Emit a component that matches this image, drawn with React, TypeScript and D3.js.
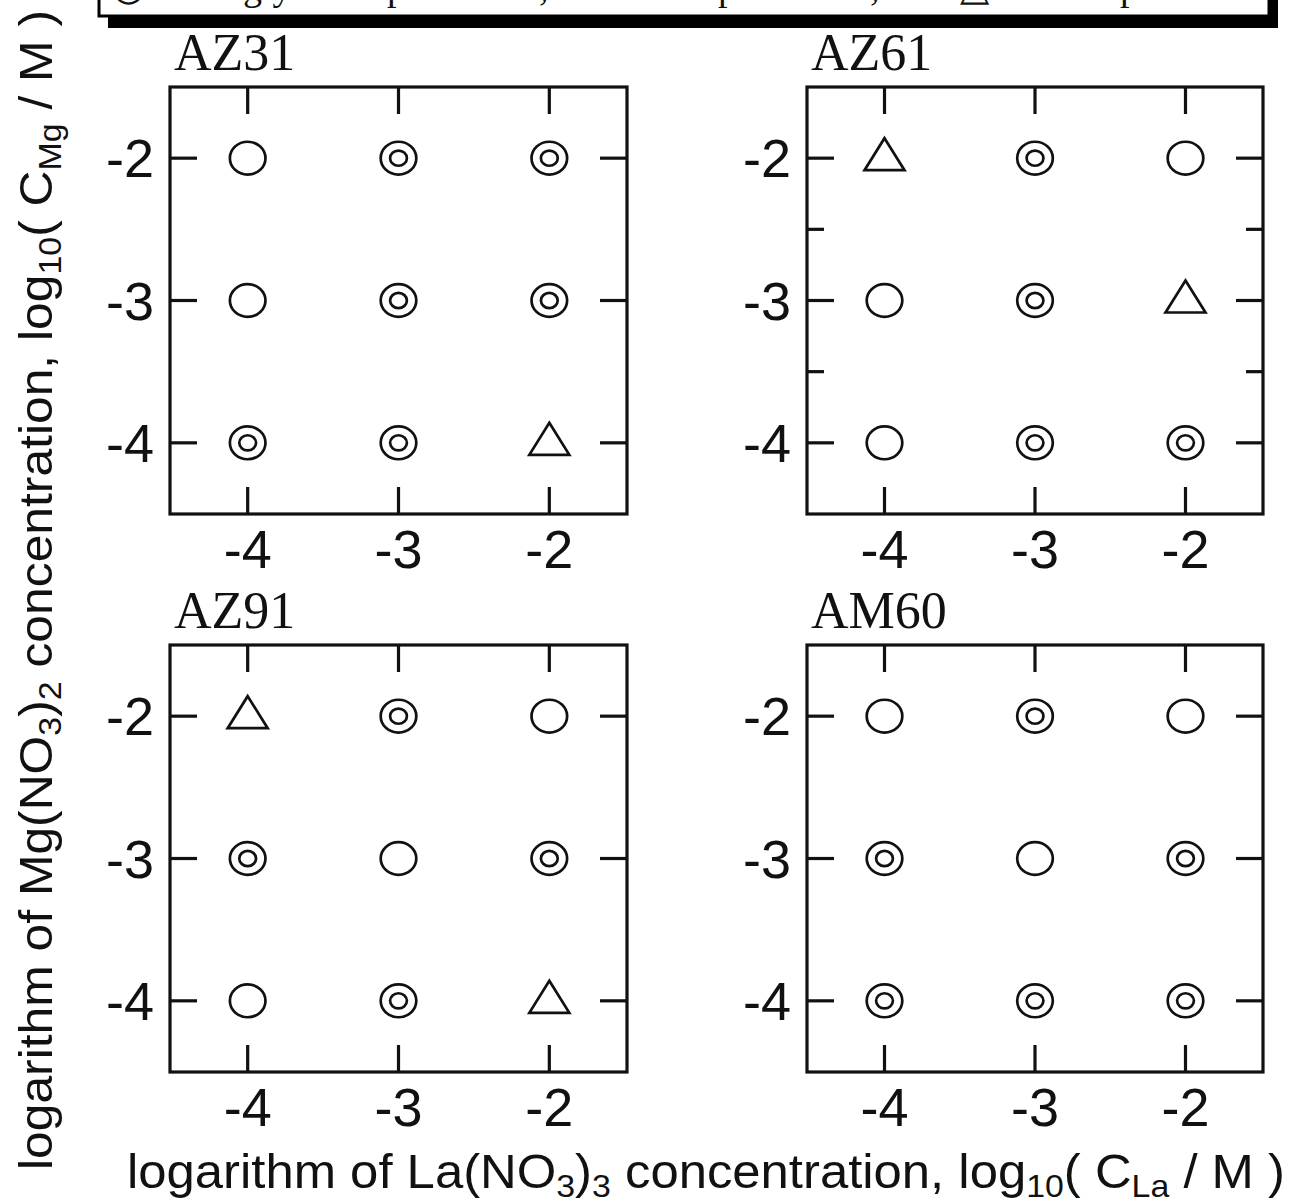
import React from "react";
import * as d3 from "d3";

// ---- data ----
const alloys = ["AZ31", "AZ61", "AZ91", "AM60"];
const laTicks = [-4, -3, -2]; // log10(C_La / M)
const mgTicks = [-2, -3, -4]; // log10(C_Mg / M)
// ratings, row order = mgTicks, column order = laTicks
// D = double circle (◎), O = single circle (○), T = triangle (△)
const az31 = ["O", "D", "D", "O", "D", "D", "D", "D", "T"];
const az61 = ["T", "D", "O", "O", "D", "T", "O", "D", "D"];
const az91 = ["T", "D", "O", "D", "O", "D", "O", "D", "T"];
const am60 = ["O", "D", "O", "D", "O", "D", "D", "D", "D"];
const ratings = [az31, az61, az91, am60];
const minorTickPanels = ["AZ61"];
const minorTicks = [-2.5, -3.5];
// legend (cut off at the top edge of the figure)
const legendWords = ["◎ :", "strongly", "protective,", "○ :", "protective,", "△ : not", "protective"];

const W = 1296;
const H = 1203;
const SANS = "'Liberation Sans', Arial, Helvetica, sans-serif";
const SERIF = "'Liberation Serif', 'Times New Roman', serif";

const panelBoxes = [
  { x0: 170, x1: 627, y0: 87, y1: 514 },
  { x0: 807, x1: 1263, y0: 87, y1: 514 },
  { x0: 170, x1: 627, y0: 645, y1: 1072 },
  { x0: 807, x1: 1263, y0: 645, y1: 1072 },
];
const legendWordX = [112, 167, 387, 640, 718, 960, 1120];

function Marker({ kind, cx, cy }: { kind: string; cx: number; cy: number }) {
  const sw = 2.7;
  if (kind === "T") {
    const p = d3.path();
    p.moveTo(cx, cy - 20);
    p.lineTo(cx + 20, cy + 12);
    p.lineTo(cx - 20, cy + 12);
    p.closePath();
    return <path d={p.toString()} fill="none" stroke="#111" strokeWidth={sw} strokeLinejoin="miter" />;
  }
  return (
    <g>
      <ellipse cx={cx} cy={cy} rx={17.8} ry={16.4} fill="none" stroke="#111" strokeWidth={sw} />
      {kind === "D" && (
        <ellipse cx={cx} cy={cy} rx={8.4} ry={7.6} fill="none" stroke="#111" strokeWidth={sw} />
      )}
    </g>
  );
}

function Panel({ idx }: { idx: number }) {
  const b = panelBoxes[idx];
  const name = alloys[idx];
  const x = d3.scaleLinear().domain([-4.515, -1.485]).range([b.x0, b.x1]);
  const y = d3.scaleLinear().domain([-1.5, -4.5]).range([b.y0, b.y1]);
  const tickLen = 27;
  const lw = 3.2;
  const data = ratings[idx];
  const fmt = (t: number) => d3.format("d")(t).replace("−", "-");
  return (
    <g>
      <text x={b.x0 + 4} y={b.y0 - 17} fontFamily={SERIF} fontSize={52} fill="#111">
        {name}
      </text>
      <rect x={b.x0} y={b.y0} width={b.x1 - b.x0} height={b.y1 - b.y0} fill="none" stroke="#111" strokeWidth={lw} />
      {laTicks.map((t) => (
        <g key={"xt" + t}>
          <line x1={x(t)} x2={x(t)} y1={b.y0} y2={b.y0 + tickLen} stroke="#111" strokeWidth={lw} />
          <line x1={x(t)} x2={x(t)} y1={b.y1} y2={b.y1 - tickLen} stroke="#111" strokeWidth={lw} />
          <text x={x(t)} y={b.y1 + 54} textAnchor="middle" fontFamily={SANS} fontSize={54} fill="#111">
            {fmt(t)}
          </text>
        </g>
      ))}
      {mgTicks.map((t) => (
        <g key={"yt" + t}>
          <line x1={b.x0} x2={b.x0 + tickLen} y1={y(t)} y2={y(t)} stroke="#111" strokeWidth={lw} />
          <line x1={b.x1} x2={b.x1 - tickLen} y1={y(t)} y2={y(t)} stroke="#111" strokeWidth={lw} />
          <text x={b.x0 - 16} y={y(t) + 19} textAnchor="end" fontFamily={SANS} fontSize={54} fill="#111">
            {fmt(t)}
          </text>
        </g>
      ))}
      {minorTickPanels.includes(name) &&
        minorTicks.map((t) => (
          <g key={"mt" + t}>
            <line x1={b.x0} x2={b.x0 + 17} y1={y(t)} y2={y(t)} stroke="#111" strokeWidth={lw} />
            <line x1={b.x1} x2={b.x1 - 17} y1={y(t)} y2={y(t)} stroke="#111" strokeWidth={lw} />
          </g>
        ))}
      {mgTicks.map((mg, r) =>
        laTicks.map((la, c) => (
          <Marker key={r + "-" + c} kind={data[r * 3 + c]} cx={x(la)} cy={y(mg)} />
        ))
      )}
    </g>
  );
}

export default function App() {
  return (
    <svg
      width={W}
      height={H}
      viewBox={`0 0 ${W} ${H}`}
      style={{ position: "absolute", left: 0, top: 0, background: "#fff" }}
    >
      <rect x={0} y={0} width={W} height={H} fill="#fff" />
      {/* legend box (cut off at the top) */}
      <rect x={108} y={-40} width={1170} height={68} fill="#000" />
      <rect x={99} y={-50} width={1170} height={66} fill="#fff" stroke="#000" strokeWidth={3} />
      {legendWords.map((w, i) => (
        <text key={i} x={legendWordX[i]} y={0} fontFamily={SERIF} fontSize={38} fill="#111">
          {w}
        </text>
      ))}
      {alloys.map((_, i) => (
        <Panel key={i} idx={i} />
      ))}
      {/* y-axis label */}
      <text
        transform={`translate(52, 590) rotate(-90)`}
        textAnchor="middle"
        fontFamily={SANS}
        fontSize={47}
        fill="#111"
        textLength={1160}
        lengthAdjust="spacingAndGlyphs"
      >
        {"logarithm of Mg(NO"}
        <tspan fontSize={32} dy={9}>3</tspan>
        <tspan dy={-9}>{")"}</tspan>
        <tspan fontSize={32} dy={9}>2</tspan>
        <tspan dy={-9}>{" concentration,  log"}</tspan>
        <tspan fontSize={32} dy={9}>10</tspan>
        <tspan dy={-9}>{"( C"}</tspan>
        <tspan fontSize={32} dy={9}>Mg</tspan>
        <tspan dy={-9}>{" / M )"}</tspan>
      </text>
      {/* x-axis label */}
      <text
        x={706}
        y={1188}
        textAnchor="middle"
        fontFamily={SANS}
        fontSize={48}
        fill="#111"
        textLength={1158}
        lengthAdjust="spacingAndGlyphs"
      >
        {"logarithm of La(NO"}
        <tspan fontSize={32} dy={9}>3</tspan>
        <tspan dy={-9}>{")"}</tspan>
        <tspan fontSize={32} dy={9}>3</tspan>
        <tspan dy={-9}>{" concentration,  log"}</tspan>
        <tspan fontSize={32} dy={9}>10</tspan>
        <tspan dy={-9}>{"( C"}</tspan>
        <tspan fontSize={32} dy={9}>La</tspan>
        <tspan dy={-9}>{" / M )"}</tspan>
      </text>
    </svg>
  );
}
